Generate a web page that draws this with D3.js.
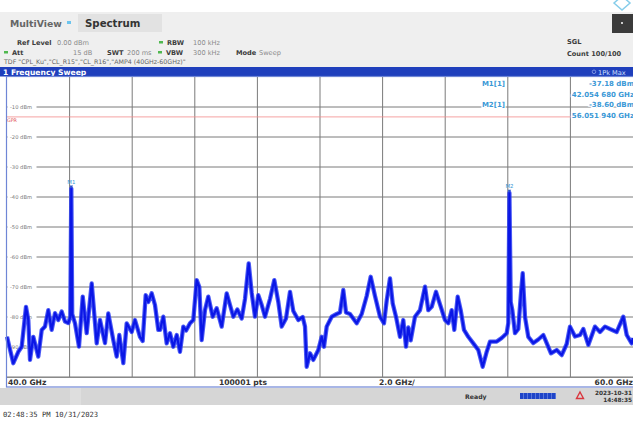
<!DOCTYPE html>
<html>
<head>
<meta charset="utf-8">
<script src="https://cdn.jsdelivr.net/npm/d3@7"></script>
<style>
  body { margin: 0; background: #fff; }
  svg { display: block; font-family: "DejaVu Sans", Verdana, sans-serif; }
</style>
</head>
<body>
<svg id="chart" width="633" height="422"></svg>
<script>
// trace: frequency in GHz, level in dBm
var traceFreq = [40.000, 40.201, 40.361, 40.470, 40.607, 40.681, 40.735, 40.840, 41.000, 41.109,
  41.214, 41.319, 41.428, 41.534, 41.639, 41.748, 41.853, 41.958, 42.022, 42.0547,
  42.083, 42.173, 42.300, 42.419, 42.546, 42.706, 42.866, 42.971, 43.131, 43.236,
  43.396, 43.505, 43.588, 43.716, 43.824, 43.984, 44.089, 44.249, 44.335, 44.431,
  44.515, 44.623, 44.728, 44.834, 44.888, 44.994, 45.102, 45.208, 45.313, 45.422,
  45.527, 45.633, 45.722, 45.847, 45.952, 46.061, 46.144, 46.220, 46.326, 46.431,
  46.572, 46.700, 46.859, 47.019, 47.125, 47.230, 47.358, 47.499, 47.604, 47.722,
  47.818, 47.923, 48.029, 48.137, 48.243, 48.403, 48.540, 48.668, 48.776, 48.914,
  49.042, 49.147, 49.307, 49.447, 49.521, 49.575, 49.681, 49.786, 49.946, 50.054,
  50.128, 50.214, 50.374, 50.533, 50.639, 50.744, 50.831, 50.958, 51.173, 51.332,
  51.492, 51.620, 51.757, 51.917, 52.045, 52.131, 52.236, 52.323, 52.428, 52.556,
  52.661, 52.748, 52.821, 52.898, 53.035, 53.195, 53.355, 53.460, 53.569, 53.706,
  53.834, 53.994, 54.099, 54.208, 54.291, 54.399, 54.495, 54.601, 54.738, 54.898,
  55.058, 55.198, 55.326, 55.431, 55.645, 55.805, 55.965, 56.016, 56.0519, 56.093,
  56.144, 56.230, 56.335, 56.422, 56.476, 56.550, 56.655, 56.815, 56.974, 57.134,
  57.243, 57.380, 57.562, 57.722, 57.882, 57.987, 58.147, 58.307, 58.412, 58.572,
  58.786, 58.946, 59.105, 59.265, 59.479, 59.690, 59.799, 59.958, 60.000];
var traceLevel = [-86.6, -95.4, -91.6, -89.9, -76.6, -81.0, -94.3, -86.6, -93.2, -84.3,
  -83.2, -77.7, -84.3, -78.7, -81.0, -78.2, -81.5, -82.0, -80.0, -37.18,
  -79.0, -82.1, -89.9, -73.2, -85.4, -68.8, -88.8, -81.0, -88.7, -78.8,
  -87.7, -93.2, -86.0, -95.4, -82.1, -85.0, -81.0, -86.6, -88.0, -72.7,
  -75.0, -72.1, -76.0, -84.3, -84.3, -79.9, -88.8, -85.4, -89.9, -86.0,
  -91.6, -83.2, -84.5, -82.1, -81.0, -67.7, -70.0, -87.7, -77.7, -73.2,
  -79.9, -77.1, -83.2, -72.1, -76.0, -79.9, -77.5, -80.5, -74.0, -62.1,
  -72.0, -79.9, -72.7, -76.0, -79.9, -74.0, -67.7, -75.0, -83.2, -80.5,
  -71.6, -78.0, -81.0, -80.0, -83.2, -96.6, -92.1, -94.3, -91.0, -86.6,
  -89.9, -83.2, -79.9, -79.0, -78.5, -71.0, -78.5, -79.0, -82.1, -79.0,
  -73.0, -66.6, -73.0, -79.9, -82.1, -74.5, -67.1, -75.5, -79.9, -86.6,
  -81.0, -89.9, -83.5, -87.8, -79.9, -77.7, -69.9, -77.7, -76.6, -71.6,
  -75.8, -81.0, -82.1, -77.7, -84.3, -73.2, -77.7, -84.3, -86.6, -88.8,
  -91.0, -96.6, -91.6, -88.2, -88.2, -87.0, -85.4, -82.0, -38.6, -75.0,
  -77.7, -85.4, -84.0, -72.0, -65.4, -80.0, -86.6, -88.7, -87.5, -86.0,
  -88.7, -92.1, -91.0, -92.7, -89.0, -83.2, -86.5, -86.0, -84.0, -89.3,
  -83.2, -85.0, -83.2, -84.0, -85.0, -79.9, -86.0, -88.8, -87.0];

var levelTicks = [-10, -20, -30, -40, -50, -60, -70, -80, -90];
var freqGrid = [40, 42, 44, 46, 48, 50, 52, 54, 56, 58, 60];
var markerNames = ["M1", "M2"];
var markerFreq = [42.05468, 56.05194];
var markerLevel = [-37.18, -38.60];
var markerFreqText = ["42.054 680 GHz", "56.051 940 GHz"];
var displayLine = -13.3;

var svg = d3.select("#chart");
var x = d3.scaleLinear([40, 60], [7, 633]),
    y = d3.scaleLinear([0, -100], [77, 377]);
var lightBlue = "#3a98d6";

// ---- header
svg.append("rect").attr("x", 0).attr("y", 12).attr("width", 633).attr("height", 55).attr("fill", "#efefef");
svg.append("rect").attr("x", 78).attr("y", 14).attr("width", 84).attr("height", 18).attr("fill", "#e2e2e2");
svg.append("text").attr("x", 10).attr("y", 27).attr("font-size", 9.3).attr("font-weight", "bold")
  .attr("fill", "#666").text("MultiView");
svg.append("rect").attr("x", 67).attr("y", 21).attr("width", 4).attr("height", 3).attr("fill", "#6cc4ee");
svg.append("text").attr("x", 85).attr("y", 27).attr("font-size", 10.2).attr("font-weight", "bold")
  .attr("fill", "#333").text("Spectrum");
svg.append("rect").attr("x", 612).attr("y", 14).attr("width", 21).attr("height", 19).attr("fill", "#3b3b3b");
svg.append("circle").attr("cx", 622).attr("cy", 23).attr("r", 1).attr("fill", "#fff");
svg.append("path").attr("d", "M614,3 L622,-4 L630,3 L622,10 Z").attr("fill", "none")
  .attr("stroke", "#86cdea").attr("stroke-width", 1.5);

var params = [
  {t: "Ref Level", x: 17, y: 45, b: true}, {t: "0.00 dBm", x: 57, y: 45},
  {t: "RBW", x: 167, y: 45, b: true, dot: 161}, {t: "100 kHz", x: 193, y: 45},
  {t: "Att", x: 12, y: 55, b: true, dot: 6}, {t: "15 dB", x: 73, y: 55},
  {t: "SWT", x: 107, y: 55, b: true}, {t: "200 ms", x: 127, y: 55},
  {t: "VBW", x: 166, y: 55, b: true, dot: 160}, {t: "300 kHz", x: 193, y: 55},
  {t: "Mode", x: 236, y: 55, b: true}, {t: "Sweep", x: 259, y: 55},
  {t: "SGL", x: 567, y: 44, b: true}, {t: "Count 100/100", x: 567, y: 56, b: true}
];
params.forEach(function(p) {
  svg.append("text").attr("x", p.x).attr("y", p.y).attr("font-size", 6.6)
    .attr("font-weight", p.b ? "bold" : "normal")
    .attr("fill", p.b ? "#3c3c3c" : "#8a8a8a").text(p.t);
  if (p.dot) svg.append("rect").attr("x", p.dot - 2).attr("y", p.y - 4).attr("width", 4).attr("height", 2.5)
    .attr("fill", "#4fb84f");
});
svg.append("text").attr("x", 4).attr("y", 64).attr("font-size", 6.3).attr("fill", "#666")
  .text('TDF "CPL_Ku","CL_R15","CL_R16","AMP4 (40GHz-60GHz)"');

// ---- title bar
svg.append("rect").attr("x", 0).attr("y", 67).attr("width", 633).attr("height", 9.5).attr("fill", "#1f3fbc");
svg.append("text").attr("x", 3).attr("y", 74.8).attr("font-size", 7.6).attr("font-weight", "bold")
  .attr("fill", "#fff").text("1 Frequency Sweep");
svg.append("circle").attr("cx", 594).attr("cy", 71.8).attr("r", 1.8).attr("fill", "none").attr("stroke", "#9fb3ee").attr("stroke-width", 0.7);
svg.append("text").attr("x", 598).attr("y", 74.5).attr("font-size", 6.6).attr("fill", "#cfe0ff").text("1Pk Max");

// ---- plot area
svg.append("rect").attr("x", 7).attr("y", 76.5).attr("width", 626).attr("height", 310).attr("fill", "#fff");

svg.append("g").selectAll("line").data(freqGrid.slice(1, -1)).join("line")
  .attr("x1", d => x(d)).attr("x2", d => x(d)).attr("y1", 77).attr("y2", 377)
  .attr("stroke", "#7a7a7a").attr("stroke-width", 1);
svg.append("g").selectAll("line").data(levelTicks.concat([-100])).join("line")
  .attr("x1", 7).attr("x2", 633).attr("y1", d => y(d)).attr("y2", d => y(d))
  .attr("stroke", "#7a7a7a").attr("stroke-width", 1);

// display line
svg.append("line").attr("x1", 7).attr("x2", 633).attr("y1", y(displayLine)).attr("y2", y(displayLine))
  .attr("stroke", "#f28a8a").attr("stroke-width", 0.8);
svg.append("text").attr("x", 7).attr("y", y(displayLine) + 5).attr("font-size", 4.8).attr("fill", "#e24848").text("GPR");

// level labels
var yl = svg.append("g").selectAll("g").data(levelTicks).join("g");
yl.append("rect").attr("x", 7.5).attr("y", d => y(d) - 3).attr("width", 29).attr("height", 6).attr("fill", "#fff");
yl.append("text").attr("x", 10).attr("y", d => y(d) + 2).attr("font-size", 5.2).attr("fill", "#777")
  .text(d => d + " dBm");

// trace: wide noise band with a darker core
var line = d3.line().x(d => x(d[0])).y(d => y(d[1]));
var pts = d3.zip(traceFreq, traceLevel);
svg.append("path").attr("d", line(pts))
  .attr("fill", "none").attr("stroke", "#2a3cf2").attr("stroke-width", 4.3)
  .attr("stroke-linejoin", "round").attr("stroke-opacity", 0.85);
svg.append("path").attr("d", line(pts))
  .attr("fill", "none").attr("stroke", "#0a16e6").attr("stroke-width", 2.2)
  .attr("stroke-linejoin", "round");

// markers
markerNames.forEach(function(m, i) {
  var mx = x(markerFreq[i]), my = y(markerLevel[i]);
  svg.append("path").attr("d", "M" + (mx - 1.8) + "," + (my - 3) + " L" + (mx + 1.8) + "," + (my - 3) + " L" + mx + "," + my + " Z")
    .attr("fill", "#2a55c8");
  svg.append("text").attr("x", mx).attr("y", my - 5).attr("text-anchor", "middle")
    .attr("font-size", 5.4).attr("fill", lightBlue).text(m);
});

// marker table
markerNames.forEach(function(m, i) {
  var by = 86 + i * 21;
  var opts = {"stroke": "#fff", "stroke-width": 2.5, "paint-order": "stroke"};
  var t1 = svg.append("text").attr("x", 505).attr("y", by).attr("text-anchor", "end").text(m + "[1]");
  var t2 = svg.append("text").attr("x", 634).attr("y", by).attr("text-anchor", "end").text(markerLevel[i].toFixed(2) + " dBm");
  var t3 = svg.append("text").attr("x", 634).attr("y", by + 11).attr("text-anchor", "end").text(markerFreqText[i]);
  [t1, t2, t3].forEach(function(t) {
    t.attr("font-size", 7).attr("font-weight", "bold").attr("fill", lightBlue);
    for (var k in opts) t.attr(k, opts[k]);
  });
});

// frame + frequency row
svg.append("line").attr("x1", 7).attr("x2", 633).attr("y1", 377.5).attr("y2", 377.5).attr("stroke", "#8a8a8a");
svg.append("rect").attr("x", 6.5).attr("y", 76.5).attr("width", 640).attr("height", 310.5)
  .attr("fill", "none").attr("stroke", "#6f86d6").attr("stroke-width", 1.2);
var rowTexts = [{t: "40.0 GHz", x: 8, a: "start"}, {t: "100001 pts", x: 219, a: "start"},
  {t: "2.0 GHz/", x: 379, a: "start"}, {t: x.domain()[1].toFixed(1) + " GHz", x: 633, a: "end"}];
rowTexts.forEach(function(r) {
  svg.append("text").attr("x", r.x).attr("y", 385.3).attr("text-anchor", r.a).attr("font-size", 7.6)
    .attr("font-weight", "bold").attr("fill", "#333").text(r.t);
});

// status bar
svg.append("rect").attr("x", 0).attr("y", 388).attr("width", 633).attr("height", 17).attr("fill", "#d6d6d6");
svg.append("rect").attr("x", 70).attr("y", 388).attr("width", 11).attr("height", 17).attr("fill", "#dedede");
svg.append("text").attr("x", 465).attr("y", 399).attr("font-size", 6.2).attr("font-weight", "bold").attr("fill", "#333").text("Ready");
svg.append("rect").attr("x", 520).attr("y", 393).attr("width", 36).attr("height", 6).attr("fill", "#1f45c8");
svg.append("g").selectAll("line").data(d3.range(9)).join("line")
  .attr("x1", d => 523.5 + d * 4).attr("x2", d => 523.5 + d * 4).attr("y1", 393).attr("y2", 399)
  .attr("stroke", "#7d96e8").attr("stroke-width", 0.6);
svg.append("path").attr("d", "M580,392 L583.5,398.5 L576.5,398.5 Z").attr("fill", "none")
  .attr("stroke", "#d9363e").attr("stroke-width", 1.4);
svg.append("text").attr("x", 632).attr("y", 394.5).attr("text-anchor", "end").attr("font-size", 5.8)
  .attr("font-weight", "bold").attr("fill", "#333").text("2023-10-31");
svg.append("text").attr("x", 632).attr("y", 402.3).attr("text-anchor", "end").attr("font-size", 5.8)
  .attr("font-weight", "bold").attr("fill", "#333").text("14:48:35");

svg.append("text").attr("x", 3).attr("y", 417).attr("font-size", 7.2).attr("fill", "#333")
  .attr("font-family", "DejaVu Sans Mono, monospace").text("02:48:35 PM  10/31/2023");
</script>
</body>
</html>
